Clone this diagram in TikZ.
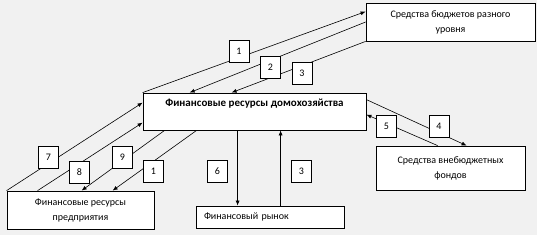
\documentclass[tikz,border=0pt]{standalone}
\usepackage{fontspec}
\setmainfont{Carlito}
\usepackage{tikz}
\usetikzlibrary{arrows.meta,calc}
\definecolor{paper}{HTML}{F1F1F1}
\definecolor{ink}{HTML}{000000}
\tikzset{
  font=\fontsize{10}{15}\selectfont,
  >={Latex[length=5pt,width=4pt]},
  base/.style={
    draw=ink, line width=0.8pt, fill=white, text=ink, align=center,
    inner sep=3pt
  },
  numbox/.style={base, minimum width=20pt, minimum height=22pt, inner sep=0pt},
  flow/.style={->, line width=0.6pt, draw=ink}
}

\begin{document}
\begin{tikzpicture}[x=1pt,y=-1pt]
  \fill[paper] (0,0) rectangle (537,235);
  \useasboundingbox (0,0) rectangle (537,235);

  % boxes
  \node[base, minimum width=223pt, minimum height=37pt, font=\fontsize{11}{14}\selectfont\bfseries, text depth=17pt] (main) at (254.5,111.5) {Финансовые ресурсы домохозяйства};
  \node[base, minimum width=169pt, minimum height=38pt] (bud) at (450.5,22) {Средства бюджетов разного\\уровня};
  \node[base, minimum width=149pt, minimum height=44pt] (ext) at (450.5,168) {Средства внебюджетных\\фондов};
  \node[base, minimum width=147pt, minimum height=38pt] (ent) at (80.5,210) {Финансовые ресурсы\\предприятия};
  \node[base, text width=132pt, align=left, inner xsep=8pt, minimum height=22pt] (mkt) at (270,217) {Финансовый рынок};

  % anchor points
  \coordinate (m6) at ($(main.south west)+(95,0)$);
  \coordinate (m3) at ($(main.south west)+(138,0)$);

  % edges
  \draw[flow] (main.north west) -- ($(bud.north west)+(0,9)$);
  \draw[flow] (bud.west) -- ($(main.north west)+(47,0)$);
  \draw[flow] (bud.south west) -- ($(main.north west)+(89,0)$);
  \draw[flow] ($(main.north east)+(0,7)$) -- ($(ext.north west)+(91,0)$);
  \draw[flow] ($(ext.north west)+(62,0)$) -- ($(main.north east)+(0,22)$);
  \draw[flow] (ent.north west) -- ($(main.north west)+(0,10)$);
  \draw[flow] ($(ent.north west)+(31,0)$) -- ($(main.north west)+(0,30)$);
  \draw[flow] ($(main.south west)+(22,0)$) -- ($(ent.north west)+(75,0)$);
  \draw[flow] ($(main.south west)+(54,0)$) -- ($(ent.north west)+(106,0)$);
  \draw[flow] (m6) -- (m6 |- mkt.north);
  \draw[flow] (m3 |- mkt.north) -- (m3);

  % numbers
  \node[numbox] (n1)  at (239,51.5)   {1};
  \node[numbox] (n2)  at (270.5,67.5) {2};
  \node[numbox] (n3)  at (302,73)     {3};
  \node[numbox] (n4)  at (439,126.5)  {4};
  \node[numbox] (n5)  at (386.5,126.5){5};
  \node[numbox] (n7)  at (48.5,157.5) {7};
  \node[numbox] (n8)  at (79.5,172.5) {8};
  \node[numbox] (n9)  at (122.5,157.5){9};
  \node[numbox] (n1b) at (153.5,171.5){1};
  \node[numbox] (n6)  at (217.5,171.5){6};
  \node[numbox] (n3b) at (301.5,171.5){3};
\end{tikzpicture}
\end{document}
